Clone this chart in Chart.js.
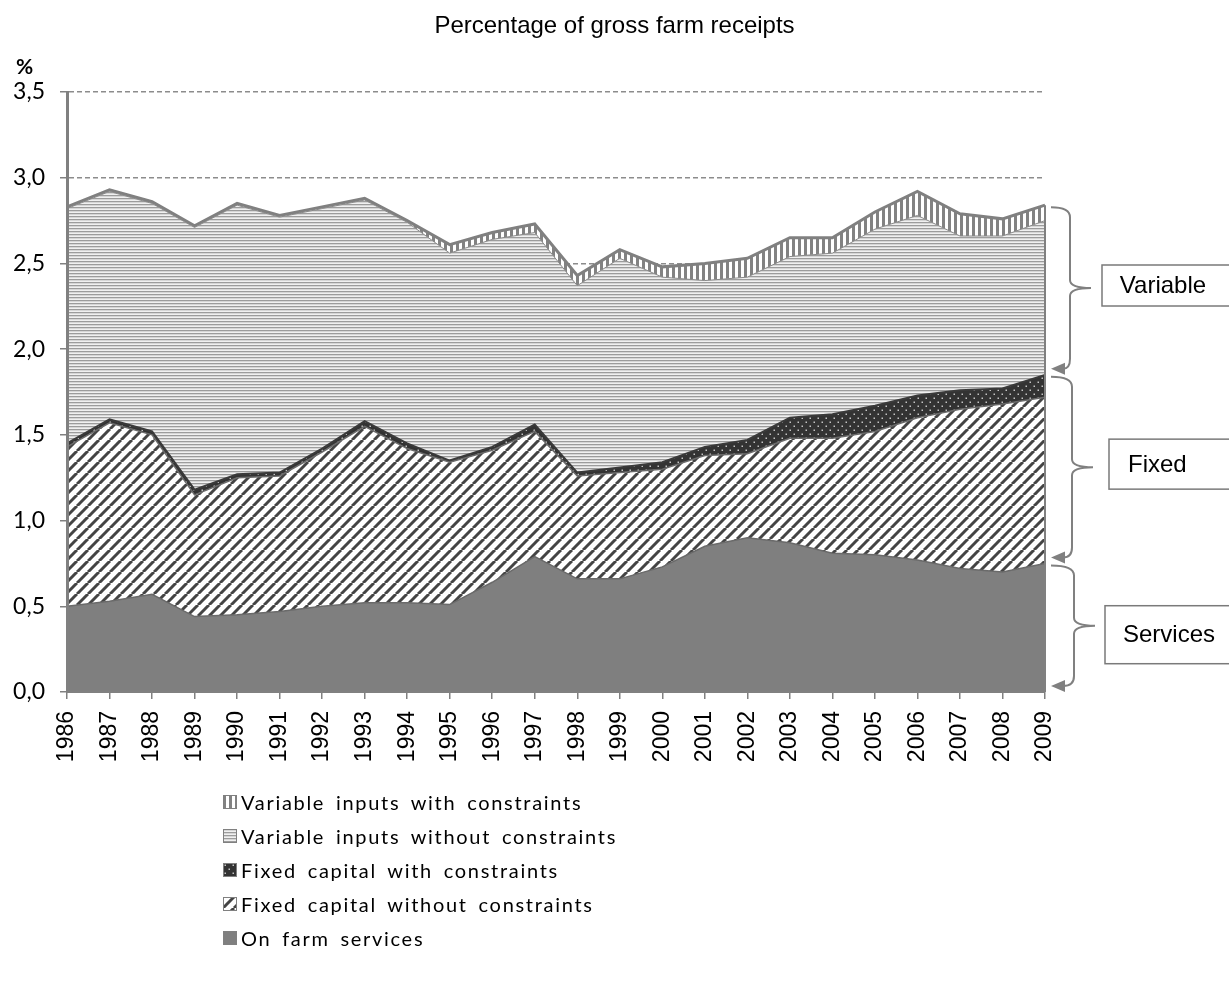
<!DOCTYPE html>
<html>
<head>
<meta charset="utf-8">
<script src="https://cdn.jsdelivr.net/npm/chart.js@4.4.1/dist/chart.umd.min.js"></script>
<style>
  body { margin: 0; background: #fff; }
  #wrap { position: relative; width: 1229px; height: 982px; }
  #chartBox { position: absolute; left: 0; top: 0; width: 1229px; height: 780px; }
  #legend { position: absolute; left: 223px; top: 785px; list-style: none; margin: 0; padding: 0;
            font-family: Lato, "Open Sans", sans-serif; font-size: 20px; color: #000;
            letter-spacing: 1.7px; word-spacing: 4px; }
  #legend li { height: 34px; display: flex; align-items: center; }
  #legend canvas { width: 14px; height: 14px; margin-right: 4px; }
</style>
</head>
<body>
<div id="wrap">
  <div id="chartBox"><canvas id="farmChart"></canvas></div>
  <ul id="legend"></ul>
</div>
<script>
// Data (percentage of gross farm receipts)
const years = ['1986', '1987', '1988', '1989', '1990', '1991', '1992', '1993', '1994', '1995', '1996', '1997',
               '1998', '1999', '2000', '2001', '2002', '2003', '2004', '2005', '2006', '2007', '2008', '2009'];
const onFarmServices = [0.50, 0.53, 0.57, 0.44, 0.45, 0.47, 0.50, 0.52, 0.52, 0.51, 0.64, 0.79,
                        0.66, 0.66, 0.73, 0.85, 0.90, 0.87, 0.81, 0.80, 0.77, 0.72, 0.70, 0.75];
const fixedWithout = [0.93, 1.04, 0.93, 0.71, 0.80, 0.79, 0.90, 1.03, 0.90, 0.83, 0.77, 0.73,
                      0.60, 0.62, 0.57, 0.53, 0.49, 0.61, 0.67, 0.72, 0.83, 0.93, 0.98, 0.97];
const fixedWith = [0.02, 0.02, 0.02, 0.03, 0.02, 0.02, 0.02, 0.03, 0.03, 0.01, 0.02, 0.04,
                   0.02, 0.03, 0.04, 0.05, 0.08, 0.12, 0.14, 0.15, 0.13, 0.11, 0.09, 0.13];
const variableWithout = [1.37, 1.33, 1.33, 1.53, 1.57, 1.49, 1.40, 1.29, 1.29, 1.21, 1.21, 1.12,
                         1.09, 1.22, 1.08, 0.97, 0.95, 0.94, 0.94, 1.03, 1.05, 0.90, 0.89, 0.90];
const variableWith = [0.01, 0.01, 0.01, 0.01, 0.01, 0.01, 0.01, 0.01, 0.01, 0.05, 0.04, 0.05,
                      0.06, 0.05, 0.06, 0.10, 0.11, 0.11, 0.09, 0.10, 0.14, 0.13, 0.10, 0.09];
const yTicks = [0, 0.5, 1.0, 1.5, 2.0, 2.5, 3.0, 3.5];

const chartTitle = 'Percentage of gross farm receipts';

// brackets on the right: name + which datasets they cover
const groups = [
    { label: 'Variable', from: 3, to: 4 },
    { label: 'Fixed', from: 1, to: 2 },
    { label: 'Services', from: 0, to: 0 }
];

// Pattern helpers
function makeTile(w, h, draw) {
    const c = document.createElement('canvas');
    c.width = w; c.height = h;
    draw(c.getContext('2d'), w, h);
    return c;
}

const tiles = {
    vertical: makeTile(6, 6, (g, w, h) => {
        g.fillStyle = '#fff'; g.fillRect(0, 0, w, h);
        g.fillStyle = '#828282'; g.fillRect(0, 0, 3, h);
    }),
    horizontal: makeTile(3, 3, (g, w, h) => {
        g.fillStyle = '#9c9c9c'; g.fillRect(0, 0, w, 1);
        g.fillStyle = '#d6d6d6'; g.fillRect(0, 1, w, 1);
        g.fillStyle = '#f0f0f0'; g.fillRect(0, 2, w, 1);
    }),
    dots: makeTile(8, 8, (g, w, h) => {
        g.fillStyle = '#333'; g.fillRect(0, 0, w, h);
        g.fillStyle = '#c4c4c4';
        g.fillRect(1.5, 1.5, 1.5, 1.5);
        g.fillRect(5.5, 5.5, 1.5, 1.5);
    }),
    diagonal: makeTile(11, 11, (g, w, h) => {
        g.fillStyle = '#fff'; g.fillRect(0, 0, w, h);
        g.strokeStyle = '#444'; g.lineWidth = 3;
        [-w, 0, w].forEach(k => {
            g.beginPath(); g.moveTo(k, h); g.lineTo(k + w, 0); g.stroke();
        });
    }),
    solid: makeTile(4, 4, (g, w, h) => {
        g.fillStyle = '#7f7f7f'; g.fillRect(0, 0, w, h);
    })
};

const ctx = document.getElementById('farmChart').getContext('2d');
const pat = name => ctx.createPattern(tiles[name], 'repeat');

const datasets = [
    { label: 'On farm services', data: onFarmServices, tile: 'solid',
      backgroundColor: pat('solid'), borderColor: '#6a6a6a', borderWidth: 1.5, fill: 'origin' },
    { label: 'Fixed capital without constraints', data: fixedWithout, tile: 'diagonal',
      backgroundColor: pat('diagonal'), borderColor: '#6a6a6a', borderWidth: 1.5, fill: '-1' },
    { label: 'Fixed capital with constraints', data: fixedWith, tile: 'dots',
      backgroundColor: pat('dots'), borderColor: '#3a3a3a', borderWidth: 2, fill: '-1' },
    { label: 'Variable inputs without constraints', data: variableWithout, tile: 'horizontal',
      backgroundColor: pat('horizontal'), borderColor: '#8a8a8a', borderWidth: 1, fill: '-1' },
    { label: 'Variable inputs with constraints', data: variableWith, tile: 'vertical',
      backgroundColor: pat('vertical'), borderColor: '#808080', borderWidth: 3, fill: '-1' }
];

function stackTop(idx, i) {
    let s = 0;
    for (let d = 0; d <= idx; d++) s += datasets[d].data[i];
    return s;
}

// Title, brackets, boxes, the % label and the right edge of the areas
const annotationsPlugin = {
    id: 'annotations',
    afterDatasetsDraw(chart) {
        const { ctx, scales: { x, y } } = chart;
        const last = years.length - 1;
        const xEnd = x.getPixelForValue(last);
        ctx.save();
        ctx.strokeStyle = '#808080';
        ctx.lineWidth = 2;
        ctx.beginPath();
        ctx.moveTo(xEnd, y.getPixelForValue(stackTop(datasets.length - 1, last)));
        ctx.lineTo(xEnd, y.getPixelForValue(0));
        ctx.stroke();
        ctx.restore();
    },
    afterDraw(chart) {
        const { ctx, scales: { x, y } } = chart;
        const last = years.length - 1;
        const xEnd = x.getPixelForValue(last);
        ctx.save();

        // title, centred on the whole picture
        ctx.fillStyle = '#000';
        ctx.font = '24px "Liberation Sans", Arial, sans-serif';
        ctx.textAlign = 'center';
        ctx.textBaseline = 'alphabetic';
        ctx.fillText(chartTitle, chart.width / 2, 33);

        // % label
        ctx.font = 'bold 21px Lato, sans-serif';
        ctx.textAlign = 'left';
        ctx.fillText('%', 16, 74);

        groups.forEach((gr, gi) => {
            const topVal = stackTop(gr.to, last);
            const botVal = gr.from > 0 ? stackTop(gr.from - 1, last) : 0;
            const top = y.getPixelForValue(topVal) + 2;
            const bot = y.getPixelForValue(botVal) - 6;
            const mid = (top + bot) / 2;
            const xL = xEnd + 6;
            const xV = xEnd + 25 + gi * 2;
            const xM = xV + 21;

            ctx.strokeStyle = '#808080';
            ctx.lineWidth = 2;
            ctx.beginPath();
            ctx.moveTo(xL, top);
            ctx.quadraticCurveTo(xV, top, xV, top + 10);
            ctx.lineTo(xV, mid - 8);
            ctx.quadraticCurveTo(xV, mid, xM, mid);
            ctx.moveTo(xM, mid);
            ctx.quadraticCurveTo(xV, mid, xV, mid + 8);
            ctx.lineTo(xV, bot - 10);
            ctx.quadraticCurveTo(xV, bot, xL + 12, bot);
            ctx.stroke();

            ctx.fillStyle = '#808080';
            ctx.beginPath();
            ctx.moveTo(xL, bot);
            ctx.lineTo(xL + 14, bot - 6);
            ctx.lineTo(xL + 14, bot + 6);
            ctx.closePath();
            ctx.fill();

            // label box (cut by the right edge, like the original)
            const boxes = [
                { dx: 11, dy: -23, h: 41, tx: 'center' },
                { dx: 16, dy: -28, h: 50, tx: 'left', pad: 19 },
                { dx: 10, dy: -20, h: 58, tx: 'left', pad: 18 }
            ];
            const b = boxes[gi];
            const bx = xM + b.dx, by = mid + b.dy;
            ctx.lineWidth = 1.5;
            ctx.strokeStyle = '#7a7a7a';
            ctx.fillStyle = '#fff';
            ctx.fillRect(bx, by, 200, b.h);
            ctx.strokeRect(bx, by, 200, b.h);
            ctx.fillStyle = '#000';
            ctx.font = '24px "Liberation Sans", Arial, sans-serif';
            ctx.textBaseline = 'middle';
            if (b.tx === 'center') {
                ctx.textAlign = 'center';
                ctx.fillText(gr.label, bx + 61, by + b.h / 2 + 1);
            } else {
                ctx.textAlign = 'left';
                ctx.fillText(gr.label, bx + b.pad, by + b.h / 2 + 1);
            }
        });
        ctx.restore();
    }
};

const chart = new Chart(ctx, {
    type: 'line',
    data: { labels: years, datasets: datasets },
    plugins: [annotationsPlugin],
    options: {
        responsive: true,
        maintainAspectRatio: false,
        animation: false,
        layout: { padding: { left: 0, right: 184, top: 92, bottom: 0 } },
        elements: {
            point: { radius: 0, hoverRadius: 0 },
            line: { tension: 0 }
        },
        scales: {
            x: {
                offset: false,
                grid: { display: true, drawOnChartArea: false, drawTicks: true, tickLength: 7, color: '#808080', lineWidth: 1.5 },
                border: { display: true, color: '#808080', width: 2, z: 1 },
                ticks: {
                    autoSkip: false, maxRotation: 90, minRotation: 90, padding: 12, color: '#000',
                    font: { family: '"Liberation Sans", Arial, sans-serif', size: 23 }
                },
                afterFit(scale) { scale.height = 88; }
            },
            y: {
                stacked: true,
                min: 0,
                max: 3.5,
                afterBuildTicks(scale) { scale.ticks = yTicks.map(v => ({ value: v })); },
                grid: { color: '#8c8c8c', lineWidth: 1.5, tickLength: 7, tickColor: '#808080', tickBorderDash: [] },
                border: { display: true, color: '#808080', width: 3, dash: [5, 3], z: 1 },
                ticks: {
                    padding: 15, color: '#000',
                    font: { family: 'Lato, sans-serif', size: 23 },
                    callback: v => v.toFixed(1).replace('.', ',')
                },
                afterFit(scale) { scale.width = 67; }
            }
        },
        plugins: {
            legend: { display: false },
            tooltip: { enabled: false },
            title: { display: false }
        }
    }
});

// HTML legend, top series first
const legend = document.getElementById('legend');
datasets.slice().reverse().forEach(ds => {
    const li = document.createElement('li');
    const sw = document.createElement('canvas');
    sw.width = 14; sw.height = 14;
    const g = sw.getContext('2d');
    g.fillStyle = g.createPattern(tiles[ds.tile], 'repeat');
    g.fillRect(0, 0, 14, 14);
    g.strokeStyle = '#808080'; g.lineWidth = 1;
    g.strokeRect(0.5, 0.5, 13, 13);
    li.appendChild(sw);
    const span = document.createElement('span');
    span.textContent = ds.label;
    li.appendChild(span);
    legend.appendChild(li);
});
</script>
</body>
</html>
